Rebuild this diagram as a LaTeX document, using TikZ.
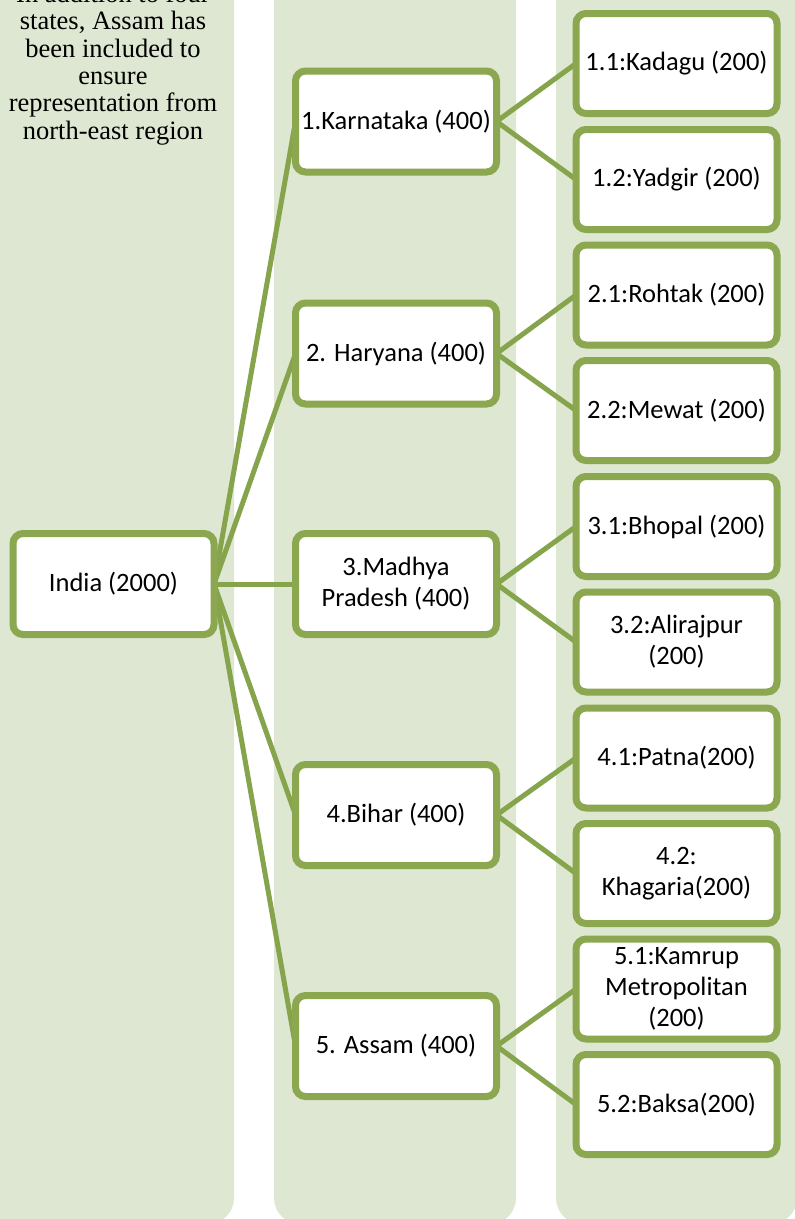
\documentclass[tikz,border=0pt]{standalone}
\usepackage{fontspec}
\setmainfont{Carlito}
\newfontfamily\serifnote{Liberation Serif}
\usetikzlibrary{shadows}
\definecolor{colbg}{RGB}{222,231,209}
\definecolor{boxline}{RGB}{139,168,80}
\definecolor{conn}{RGB}{134,164,76}
\pgfdeclarelayer{bg}
\pgfdeclarelayer{lines}
\pgfsetlayers{bg,lines,main}
\begin{document}
\begin{tikzpicture}[x=1pt,y=-1pt,
  column/.style={fill=colbg, rounded corners=26pt},
  box/.style={draw=boxline, line width=7pt, fill=white, rounded corners=10pt,
    minimum width=201pt, minimum height=101pt, inner sep=2pt, outer sep=0pt,
    align=center, font=\fontsize{26.5}{31}\selectfont,
    drop shadow={shadow xshift=1.5pt, shadow yshift=-3pt, fill=black, opacity=0.25}},
  leaf/.style={box, minimum height=100pt},
  link/.style={draw=conn, line width=5pt},
  note/.style={align=center, inner sep=0pt, font=\serifnote\fontsize{26.5}{27.3}\selectfont}]
\useasboundingbox (0,0) rectangle (795,1219);
\begin{pgfonlayer}{bg}
  \fill[column] (-30,-40) rectangle (234,1224);
  \fill[column] (274,-40) rectangle (516,1224);
  \fill[column] (556,-40) rectangle (797,1224);
\end{pgfonlayer}

\node[note, anchor=base] (txt) at (113,139) {In addition to four\\states, Assam has\\been included to\\ensure\\representation from\\north-east region};

\node[box] (india) at (113.5,584) {India (2000)};

\node[box] (s1) at (396,121.5) {1.Karnataka (400)};
\node[box] (s2) at (396,353.5) {2. Haryana (400)};
\node[box] (s3) at (396,584) {3.Madhya\\Pradesh (400)};
\node[box] (s4) at (396,815) {4.Bihar (400)};
\node[box] (s5) at (396,1046) {5. Assam (400)};

\node[leaf] (d11) at (676.5,63.5) {1.1:Kadagu (200)};
\node[leaf] (d12) at (676.5,179.5) {1.2:Yadgir (200)};
\node[leaf] (d21) at (676.5,295) {2.1:Rohtak (200)};
\node[leaf] (d22) at (676.5,410.5) {2.2:Mewat (200)};
\node[leaf] (d31) at (676.5,526.5) {3.1:Bhopal (200)};
\node[leaf] (d32) at (676.5,642) {3.2:Alirajpur\\(200)};
\node[leaf] (d41) at (676.5,758) {4.1:Patna(200)};
\node[leaf] (d42) at (676.5,873.5) {4.2:\\Khagaria(200)};
\node[leaf] (d51) at (676.5,989) {5.1:Kamrup\\Metropolitan\\(200)};
\node[leaf] (d52) at (676.5,1104.5) {5.2:Baksa(200)};

\begin{pgfonlayer}{lines}
  \foreach \s in {s1,s2,s3,s4,s5} {\draw[link] (india.east) -- (\s.west);}
  \foreach \s/\a/\b in {s1/d11/d12, s2/d21/d22, s3/d31/d32, s4/d41/d42, s5/d51/d52} {
    \draw[link] (\s.east) -- (\a.west);
    \draw[link] (\s.east) -- (\b.west);
  }
\end{pgfonlayer}
\end{tikzpicture}
\end{document}
